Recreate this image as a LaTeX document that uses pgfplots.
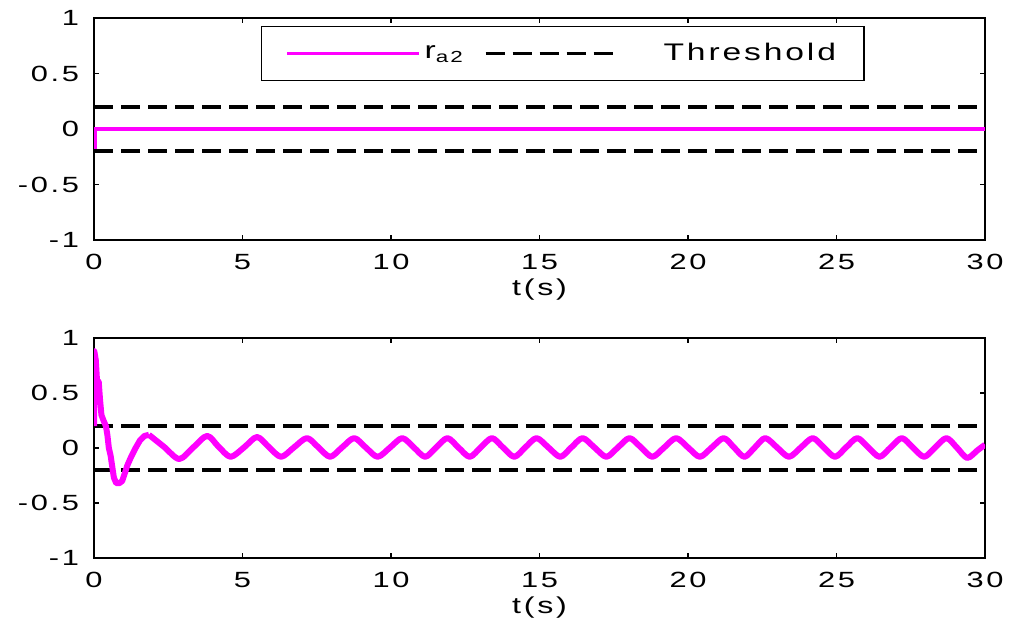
\documentclass[border=0pt]{standalone}
\usepackage{pgfplots}
\pgfplotsset{compat=1.18}
\usepackage{fontspec}
\setmainfont{Liberation Sans}[FakeStretch=1.4, LetterSpace=12]
\definecolor{mag}{RGB}{255,0,255}
\pgfplotsset{
  myaxis/.style={
    scale only axis, width=445.5pt,
    xmin=0, xmax=30, ymin=-1, ymax=1,
    xtick={0,5,10,15,20,25,30},
    ytick={-1,-0.5,0,0.5,1},
    /pgf/number format/assume math mode=true,
    tick label style={font=\fontsize{11pt}{13pt}\selectfont},
    label style={font=\fontsize{11.5pt}{13pt}\selectfont},
    major tick length=2.5pt,
    tick align=inside,
    axis line style={line width=0.75pt},
    every tick/.style={black, line width=0.6pt},
    xticklabel style={anchor=center, yshift=-11pt},
    yticklabel style={anchor=east, xshift=-4pt},
    xlabel={t(s)},
    xlabel style={at={(axis description cs:0.5,0)}, anchor=center, yshift=-25pt},
    legend image code/.code={\draw[#1] (0pt,0pt) -- (66pt,0pt);},
  },
  thr/.style={black, line width=1.9pt, dash pattern=on 9.5pt off 4pt},
}
\begin{document}
\begin{tikzpicture}
\path[use as bounding box] (0,0) rectangle (506pt,314pt);
\begin{axis}[myaxis, at={(47pt,194pt)}, anchor=south west, height=111pt,
  legend columns=-1,
  legend style={at={(0.526,0.84)}, anchor=center, draw=black, line width=0.6pt,
    fill=white, font=\fontsize{12pt}{14pt}\selectfont,
    inner xsep=12pt, inner ysep=6.5pt,
    /tikz/every even column/.append style={column sep=8pt}},
]
\addplot[mag, line width=1.7pt] coordinates {(0,-0.19) (0.04,-0.19) (0.04,0) (30,0)};
\addlegendentry{r\textsubscript{a2}}
\addplot[thr] coordinates {(0,0.2) (30,0.2)};
\addlegendentry{\hspace{20pt}Threshold}
\addplot[thr, forget plot] coordinates {(0,-0.2) (30,-0.2)};
\end{axis}
\begin{axis}[myaxis, at={(47pt,35pt)}, anchor=south west, height=110pt]
\addplot[thr] coordinates {(0,0.2) (30,0.2)};
\addplot[thr] coordinates {(0,-0.2) (30,-0.2)};
\addplot[mag, line width=3pt, line join=round] coordinates {
(0,0.2) (0.01,0.88) (0.06,0.8) (0.1,0.62) (0.16,0.6) (0.2,0.45) (0.25,0.3)
(0.32,0.25) (0.4,0.2) (0.45,0.12) (0.5,0.0) (0.56,-0.07) (0.62,-0.18)
(0.67,-0.27) (0.75,-0.32) (0.85,-0.32) (0.95,-0.3) (1.05,-0.22) (1.12,-0.16)
(1.25,-0.08) (1.4,0.0) (1.55,0.07) (1.7,0.11) (1.85,0.12)};
\addplot[mag, line width=3pt, smooth, line join=round] coordinates {
(1.85,0.12) (2.36,0.01) (2.87,-0.10) (3.34,0.005) (3.81,0.11) (4.2,0.01)
(4.6,-0.08) (5.05,0.005) (5.49,0.10) (5.9,0.005) (6.3,-0.08) (6.73,0.005)
(7.17,0.09) (7.56,0.005) (7.95,-0.08) (8.35,0.005) (8.76,0.09) (9.15,0.005)
(9.55,-0.08) (9.97,0.005) (10.38,0.09) (10.77,0.005) (11.15,-0.08) (11.52,0.005)
(11.9,0.09) (12.27,0.005) (12.65,-0.08) (13.02,0.005) (13.4,0.09) (13.77,0.005)
(14.15,-0.08) (14.52,0.005) (14.9,0.09) (15.3,0.005) (15.7,-0.08) (16.07,0.005)
(16.45,0.09) (16.85,0.005) (17.25,-0.08) (17.64,0.005) (18.03,0.09) (18.42,0.005)
(18.8,-0.08) (19.2,0.005) (19.6,0.09) (20.0,0.005) (20.4,-0.08) (20.8,0.005)
(21.2,0.09) (21.55,0.005) (21.9,-0.08) (22.25,0.005) (22.6,0.09) (23.0,0.005)
(23.4,-0.08) (23.8,0.005) (24.2,0.09) (24.57,0.005) (24.95,-0.08) (25.32,0.005)
(25.7,0.09) (26.07,0.005) (26.45,-0.08) (26.82,0.005) (27.2,0.09) (27.57,0.005)
(27.95,-0.08) (28.32,0.005) (28.7,0.09) (29.05,0.005) (29.4,-0.09) (29.75,-0.02)
(30,0.03)};
\end{axis}
\end{tikzpicture}
\end{document}
